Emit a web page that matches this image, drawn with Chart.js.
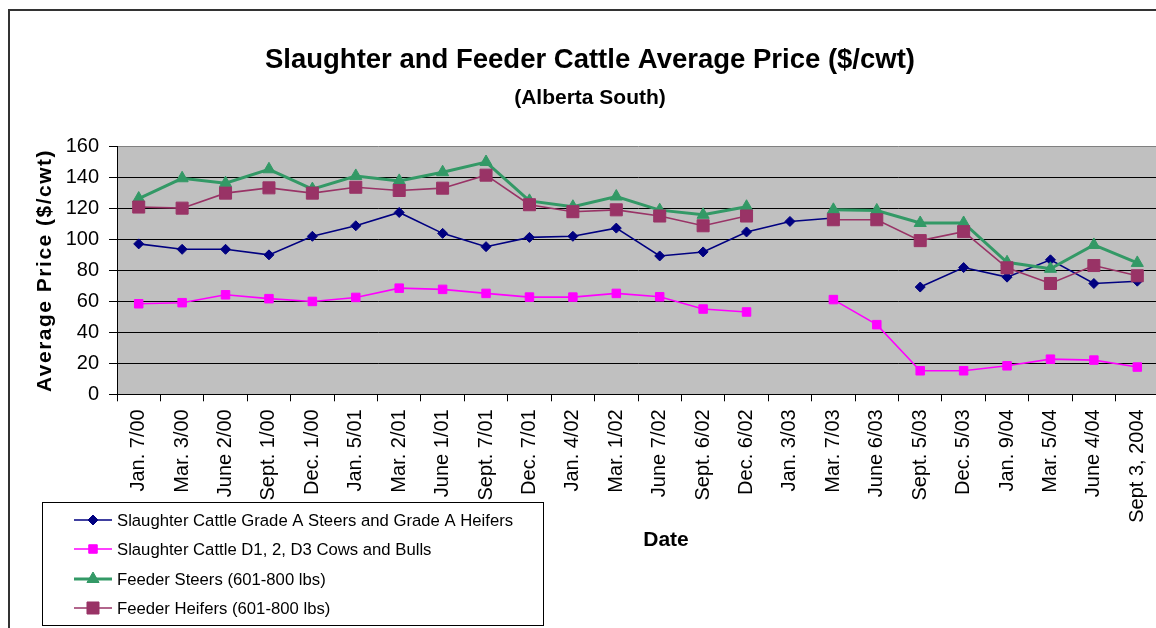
<!DOCTYPE html>
<html>
<head>
<meta charset="utf-8">
<script src="https://cdn.jsdelivr.net/npm/chart.js@4/dist/chart.umd.min.js"></script>
<style>
    html, body { margin: 0; padding: 0; overflow: hidden; background: #ffffff; }
    #wrap { position: absolute; left: 0; top: 0; width: 1170px; height: 640px; }
</style>
</head>
<body>
<div id="wrap"><canvas id="cattleChart"></canvas></div>
<script>
// Sale dates on the category axis
const saleDates = ['Jan. 7/00', 'Mar. 3/00', 'June 2/00', 'Sept. 1/00', 'Dec. 1/00', 'Jan. 5/01', 'Mar. 2/01',
    'June 1/01', 'Sept. 7/01', 'Dec. 7/01', 'Jan. 4/02', 'Mar. 1/02', 'June 7/02', 'Sept. 6/02', 'Dec. 6/02',
    'Jan. 3/03', 'Mar. 7/03', 'June 6/03', 'Sept. 5/03', 'Dec. 5/03', 'Jan. 9/04', 'Mar. 5/04', 'June 4/04',
    'Sept 3, 2004'];

// Prices in $/cwt (null = no quote)
const gradeASteersHeifers = [97.2, 93.7, 93.7, 90.1, 102.1, 108.9, 117.5, 104.0, 95.4, 101.4, 102.1, 107.4,
    89.4, 92.0, 104.9, 111.7, 113.9, null, 69.3, 81.9, 75.7, 86.9, 71.6, 73.1];
const cowsBulls = [58.5, 59.2, 64.3, 61.8, 60.0, 62.6, 68.6, 67.8, 65.2, 62.8, 62.8, 65.2,
    63.0, 55.1, 53.2, null, 61.2, 45.0, 15.2, 15.2, 18.4, 22.7, 22.1, 17.6];
const feederSteers = [126.5, 139.6, 136.4, 145.4, 132.6, 141.1, 137.9, 143.5, 150.1, 125.0, 121.2, 127.8,
    119.0, 116.0, 121.2, null, 119.2, 118.8, 110.7, 110.7, 85.3, 81.1, 96.5, 84.9];
const feederHeifers = [121.0, 120.3, 130.0, 133.4, 130.0, 133.8, 131.7, 133.2, 141.6, 122.5, 118.0, 119.2,
    115.2, 108.9, 115.2, null, 112.8, 112.8, 99.3, 105.1, 81.7, 71.6, 83.2, 76.6];

const seriesNames = [
    'Slaughter Cattle Grade A Steers and Grade A Heifers',
    'Slaughter Cattle D1, 2, D3 Cows and Bulls',
    'Feeder Steers (601-800 lbs)',
    'Feeder Heifers (601-800 lbs)'
];
const yTicks = [0, 20, 40, 60, 80, 100, 120, 140, 160];

document.addEventListener('DOMContentLoaded', function() {
    const FONT = 'Arial, "Liberation Sans", sans-serif';

    // white page, grey plot area, outer frame
    const backdrop = {
        id: 'backdrop',
        beforeDraw(chart) {
            const ctx = chart.ctx;
            const a = chart.chartArea;
            ctx.save();
            ctx.fillStyle = '#ffffff';
            ctx.fillRect(0, 0, chart.width, chart.height);
            ctx.fillStyle = '#c0c0c0';
            ctx.fillRect(a.left, a.top, a.right - a.left, a.bottom - a.top);
            ctx.strokeStyle = '#333333';
            ctx.lineWidth = 2;
            ctx.strokeRect(9, 10, chart.width + 20, chart.height + 20);
            ctx.restore();
        }
    };

    // boxed legend in the lower left, the spaced-out y caption and the "Date" caption
    const boxLegend = {
        id: 'boxLegend',
        afterDraw(chart) {
            const ctx = chart.ctx;
            const a = chart.chartArea;
            ctx.save();
            ctx.fillStyle = '#ffffff';
            ctx.fillRect(42, 502, 501, 123);
            ctx.strokeStyle = '#000000';
            ctx.lineWidth = 1;
            ctx.strokeRect(42.5, 502.5, 501, 123);

            const rows = [520, 549, 579, 608];
            chart.data.datasets.forEach((ds, i) => {
                const y = rows[i];
                ctx.strokeStyle = ds.borderColor;
                ctx.lineWidth = ds.borderWidth;
                ctx.beginPath();
                ctx.moveTo(74, y);
                ctx.lineTo(112, y);
                ctx.stroke();
                ctx.fillStyle = ds.pointBackgroundColor;
                ctx.strokeStyle = ds.pointBorderColor;
                ctx.lineWidth = 1;
                Chart.helpers.drawPoint(ctx, {
                    pointStyle: ds.pointStyle,
                    radius: ds.pointRadius,
                    rotation: 0,
                    borderWidth: 1
                }, 93, y);
                ctx.fillStyle = '#000000';
                ctx.font = '16.7px ' + FONT;
                ctx.textBaseline = 'middle';
                ctx.textAlign = 'left';
                ctx.fillText(seriesNames[i], 117, y + 1);
            });

            ctx.font = 'bold 21px ' + FONT;
            ctx.textAlign = 'center';
            ctx.textBaseline = 'middle';
            ctx.fillText('Date', 666, 540);

            // y axis caption, rotated and tracked out like the original
            ctx.translate(45, (a.top + a.bottom) / 2);
            ctx.rotate(-Math.PI / 2);
            ctx.letterSpacing = '1.5px';
            ctx.font = 'bold 21px ' + FONT;
            ctx.fillText('Average Price ($/cwt)', 0, 0);
            ctx.restore();
        }
    };

    function lineSet(idx, values, color, width, style, radius, order) {
        return {
            label: seriesNames[idx],
            data: values,
            borderColor: color,
            borderWidth: width,
            pointStyle: style,
            pointRadius: radius,
            pointHoverRadius: radius,
            pointBackgroundColor: color,
            pointBorderColor: color,
            pointBorderWidth: 1,
            tension: 0,
            spanGaps: false,
            order: order
        };
    }

    const ctx = document.getElementById('cattleChart').getContext('2d');
    new Chart(ctx, {
        type: 'line',
        data: {
            labels: saleDates,
            datasets: [
                lineSet(0, gradeASteersHeifers, '#000080', 1.6, 'rectRot', 5, 3),
                lineSet(1, cowsBulls, '#ff00ff', 1.6, 'rect', 6, 2),
                lineSet(2, feederSteers, '#339966', 3, 'triangle', 7, 1),
                lineSet(3, feederHeifers, '#993366', 1.6, 'rect', 8.5, 0)
            ]
        },
        options: {
            responsive: true,
            maintainAspectRatio: false,
            animation: false,
            layout: { padding: { left: 21, right: 11, top: 0, bottom: 0 } },
            plugins: {
                legend: { display: false },
                tooltip: { enabled: false },
                title: {
                    display: true,
                    text: 'Slaughter and Feeder Cattle Average Price ($/cwt)',
                    color: '#000000',
                    font: { family: FONT, size: 27.5, weight: 'bold', lineHeight: 1.2 },
                    padding: { top: 43.5, bottom: 0 }
                },
                subtitle: {
                    display: true,
                    text: '(Alberta South)',
                    color: '#000000',
                    font: { family: FONT, size: 21, weight: 'bold', lineHeight: 1.2 },
                    padding: { top: 9.4, bottom: 35.6 }
                }
            },
            scales: {
                x: {
                    type: 'category',
                    offset: true,
                    afterFit(scale) { scale.height = 245.7; },
                    grid: {
                        display: true,
                        offset: true,
                        drawOnChartArea: false,
                        drawTicks: true,
                        tickLength: 7,
                        color: '#000000'
                    },
                    border: { display: true, color: '#000000', width: 1 },
                    ticks: {
                        autoSkip: false,
                        minRotation: 90,
                        maxRotation: 90,
                        padding: 8,
                        color: '#000000',
                        font: { family: FONT, size: 20 }
                    }
                },
                y: {
                    min: 0,
                    max: 160,
                    afterFit(scale) { scale.width = 96; },
                    afterBuildTicks(scale) { scale.ticks = yTicks.map(v => ({ value: v })); },
                    grid: {
                        color: c => (c.tick && c.tick.value === 160 ? '#808080' : '#000000'),
                        lineWidth: 1,
                        drawTicks: true,
                        tickLength: 8,
                        tickColor: '#000000'
                    },
                    border: { display: true, color: '#000000', width: 1 },
                    ticks: {
                        padding: 10,
                        color: '#000000',
                        font: { family: FONT, size: 20 }
                    }
                }
            }
        },
        plugins: [backdrop, boxLegend]
    });
});
</script>
</body>
</html>
